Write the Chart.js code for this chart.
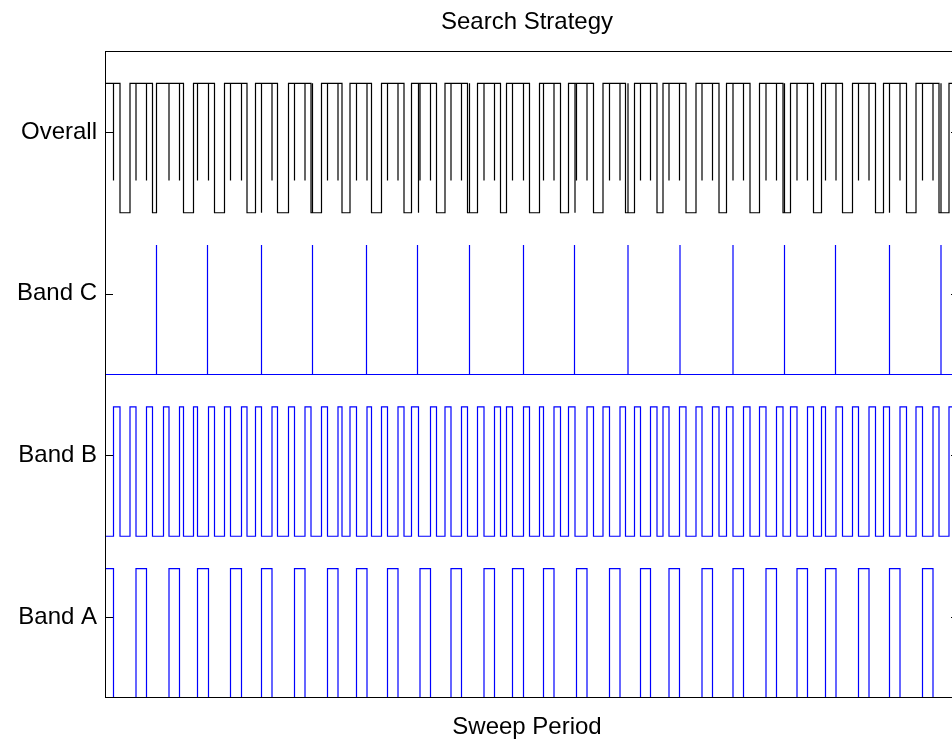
<!DOCTYPE html>
<html>
<head>
<meta charset="utf-8">
<title>Search Strategy</title>
<script src="https://cdn.jsdelivr.net/npm/chart.js@4.4.1/dist/chart.umd.min.js"></script>
<style>
  html, body { margin: 0; padding: 0; overflow: hidden; background: #fff; }
  canvas { display: block; }
</style>
</head>
<body>
<canvas id="sweep" width="962" height="743" style="width:962px;height:743px"></canvas>
<script>
// ---- Sweep timeline (time units from the start of the sweep period) ----
const sweepEnd = 854;

// Rows of the timeline, bottom to top
const rowNames = ['Band A', 'Band B', 'Band C', 'Overall'];
const rowTicks = [0.5, 1.5, 2.5, 3.5];

// Signal levels inside each row
const pulseHeight = 0.8;
const overallLow = 3.0;
const overallMid = 3.2;
const overallHigh = 3.8;

// Band A dwell windows
const bandARise = [0, 31, 64, 92.5, 125.5, 156.5, 189.5, 222.5, 251.5, 282.5, 315, 346, 379, 407.5,
  438.5, 471.5, 504.5, 535.5, 564, 597, 628, 661, 692, 720.5, 753.5, 784.5, 817.5];
const bandAFall = [8.5, 41.5, 74.5, 103.5, 136.5, 167, 200, 233, 262, 293, 325.5, 356.5, 389.5, 418.5,
  449, 482, 515, 545.5, 574.5, 607.5, 638.5, 671.5, 702.5, 731, 764, 795, 828];

// Band B dwell windows
const bandBRise = [8.5, 25, 41.5, 58.5, 74.5, 88.5, 103.5, 119.5, 136.5, 150.5, 167, 183.5, 200, 216.5,
  233, 245, 262, 276.5, 293, 306.5, 325.5, 340, 356.5, 372.5, 389.5, 401.5, 418.5, 434.5, 449, 463.5,
  482, 498, 515, 529.5, 545.5, 558, 574.5, 591, 607.5, 621.5, 638.5, 654.5, 671.5, 685.5, 702.5, 716.5,
  731, 747.5, 764, 778.5, 795, 811, 828, 844];
const bandBFall = [15, 31, 47.5, 64, 78.5, 92.5, 109.5, 125.5, 142, 156.5, 172.5, 189.5, 206, 222.5,
  237, 251.5, 266.5, 282.5, 299, 313.5, 331.5, 346, 362.5, 379, 395.5, 407.5, 424.5, 438.5, 455.5, 470,
  488.5, 504.5, 520.5, 535.5, 552, 564, 581, 597, 614, 628, 645, 661, 678, 692, 708.5, 720.5, 737.5,
  753.5, 770.5, 784.5, 801.5, 817.5, 834];

// Band C single-shot looks
const bandCHits = [51.5, 102.5, 156.5, 207.5, 261.5, 312.5, 364.5, 418.5, 469.5, 523, 575, 628,
  679.5, 730.5, 784.5, 836];

// Overall receiver activity
const overallIdleStart = [15, 47.5, 78.5, 109.5, 142, 172.5, 206, 237, 266.5, 299, 331.5, 362.5, 395.5,
  424.5, 455.5, 488.5, 520.5, 552, 581, 614, 645, 678, 708.5, 737.5, 770.5, 801.5, 834];
const overallIdleEnd = [25, 51.5, 88.5, 119.5, 150.5, 183.5, 216.5, 245, 276.5, 306.5, 340, 372.5, 401.5,
  434.5, 463.5, 498, 529.5, 558, 591, 621.5, 654.5, 685.5, 716.5, 747.5, 778.5, 811, 844];
// short retune glitches at the band handoffs
const overallGlitch = [8.5, 31, 41.5, 64, 74.5, 92.5, 103.5, 125.5, 136.5, 167, 189.5, 200, 222.5, 233,
  251.5, 262, 282.5, 293, 315, 325.5, 346, 356.5, 379, 389.5, 407.5, 418.5, 438.5, 449, 471.5, 482,
  504.5, 515, 535.5, 545.5, 564, 574.5, 597, 607.5, 628, 638.5, 661, 671.5, 692, 702.5, 720.5, 731,
  753.5, 764, 795, 817.5, 828];
// full-swing strokes
const overallStroke = [156.5, 207.5, 313.5, 364.5, 470, 523, 679.5, 784.5, 836];

// ---- trace builders ----
function pulseTrace(rises, falls, base) {
  const high = base + pulseHeight;
  const edges = rises.map(x => ({ x, up: true }))
    .concat(falls.map(x => ({ x, up: false })))
    .sort((a, b) => a.x - b.x || (a.up ? 1 : -1));
  const pts = [{ x: 0, y: base }];
  let level = base;
  for (const e of edges) {
    if (e.up) { pts.push({ x: e.x, y: base }, { x: e.x, y: high }); level = high; }
    else { pts.push({ x: e.x, y: high }, { x: e.x, y: base }); level = base; }
  }
  pts.push({ x: sweepEnd, y: level });
  return pts;
}

function hitTrace(hits, base) {
  const pts = [{ x: 0, y: base }];
  for (const h of hits) pts.push({ x: h, y: base }, { x: h, y: base + pulseHeight }, { x: h, y: base });
  pts.push({ x: sweepEnd, y: base });
  return pts;
}

function overallTrace() {
  const ev = [];
  overallIdleStart.forEach(x => ev.push({ x, k: 'start' }));
  overallIdleEnd.forEach(x => ev.push({ x, k: 'end' }));
  overallGlitch.forEach(x => ev.push({ x, k: 'glitch' }));
  overallStroke.forEach(x => ev.push({ x, k: 'stroke' }));
  const order = { start: 0, stroke: 1, glitch: 2, end: 3 };
  ev.sort((a, b) => a.x - b.x || order[a.k] - order[b.k]);
  const pts = [{ x: 0, y: overallHigh }];
  let level = overallHigh;
  for (const e of ev) {
    if (e.k === 'start') { pts.push({ x: e.x, y: overallHigh }, { x: e.x, y: overallLow }); level = overallLow; }
    else if (e.k === 'end') { pts.push({ x: e.x, y: overallLow }, { x: e.x, y: overallHigh }); level = overallHigh; }
    else if (e.k === 'glitch') { pts.push({ x: e.x, y: level }, { x: e.x, y: overallMid }, { x: e.x, y: level }); }
    else {
      const other = level === overallHigh ? overallLow : overallHigh;
      pts.push({ x: e.x, y: level }, { x: e.x, y: other }, { x: e.x, y: level });
    }
  }
  pts.push({ x: sweepEnd, y: level });
  return pts;
}

// ---- axes frame, inward ticks, title and axis label ----
const FONT = '24px "Liberation Sans", Arial, Helvetica, sans-serif';
const framePlugin = {
  id: 'frame',
  afterDatasetsDraw(chart) {
    const { ctx, chartArea: a, scales } = chart;
    ctx.save();
    ctx.strokeStyle = '#000';
    ctx.lineWidth = 1;
    ctx.strokeRect(Math.round(a.left) + 0.5, Math.round(a.top) + 0.5,
      Math.round(a.right - a.left) - 1, Math.round(a.bottom - a.top) - 1);
    ctx.beginPath();
    for (const v of rowTicks) {
      const y = Math.round(scales.y.getPixelForValue(v)) + 0.5;
      ctx.moveTo(a.left, y); ctx.lineTo(a.left + 8, y);
      ctx.moveTo(a.right, y); ctx.lineTo(a.right - 8, y);
    }
    ctx.stroke();
    ctx.fillStyle = '#000';
    ctx.font = FONT;
    ctx.textAlign = 'center';
    ctx.textBaseline = 'alphabetic';
    ctx.fillText('Search Strategy', 527, 29);
    ctx.fillText('Sweep Period', 527, 734);
    ctx.restore();
  }
};

new Chart(document.getElementById('sweep'), {
  type: 'line',
  data: {
    datasets: [
      { label: 'Overall', data: overallTrace(), borderColor: '#000000' },
      { label: 'Band C', data: hitTrace(bandCHits, 2), borderColor: '#0000ff' },
      { label: 'Band B', data: pulseTrace(bandBRise, bandBFall, 1), borderColor: '#0000ff' },
      { label: 'Band A', data: pulseTrace(bandARise, bandAFall, 0), borderColor: '#0000ff' }
    ]
  },
  options: {
    responsive: false,
    animation: false,
    devicePixelRatio: 1,
    layout: { padding: { top: 51, bottom: 45, right: 3, left: 0 } },
    elements: {
      line: { borderWidth: 1.2, tension: 0, fill: false },
      point: { radius: 0, hoverRadius: 0 }
    },
    plugins: { legend: { display: false }, title: { display: false }, tooltip: { enabled: false } },
    events: [],
    scales: {
      x: { type: 'linear', min: 0, max: sweepEnd, display: false },
      y: {
        type: 'linear', min: 0, max: 4,
        afterBuildTicks: s => { s.ticks = rowTicks.map(v => ({ value: v })); },
        afterFit: s => { s.width = 105; },
        ticks: {
          callback: (v) => rowNames[rowTicks.indexOf(v)] ?? '',
          color: '#000',
          padding: 8,
          font: { family: '"Liberation Sans", Arial, Helvetica, sans-serif', size: 24 }
        },
        grid: { display: false, drawTicks: false },
        border: { display: false }
      }
    }
  },
  plugins: [framePlugin]
});
</script>
</body>
</html>
